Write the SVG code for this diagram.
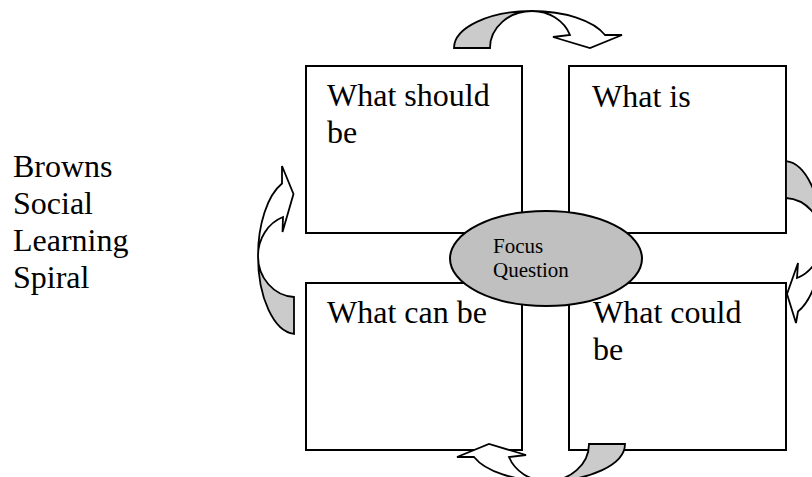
<svg xmlns="http://www.w3.org/2000/svg" xmlns:xlink="http://www.w3.org/1999/xlink" width="812" height="477" viewBox="0 0 812 477">
  <style>
    .box { fill: #ffffff; stroke: #000000; stroke-width: 2; }
    .label { font-family: "Liberation Serif", "Times New Roman", serif; font-size: 32px; fill: #000000; }
    .small { font-family: "Liberation Serif", "Times New Roman", serif; font-size: 21px; fill: #000000; }
    .band-shade { fill: #cbcbcb; stroke: #000000; stroke-width: 1.8; stroke-linejoin: miter; }
    .band-face { fill: #ffffff; stroke: #000000; stroke-width: 1.8; stroke-linejoin: miter; }
    .focus { fill: #c0c0c0; stroke: #000000; stroke-width: 2; }
  </style>
  <defs>
    <!-- curved arrow arching over the top, head pointing down-right -->
    <g id="arc-over">
      <path class="band-face" d="M532,11 A78,37 0 0 1 605,35 L622,35 L590,48 L553,37 L570,35 A40.6,37 0 0 0 532,11 Z"/>
      <path class="band-shade" d="M454,48 A78,37 0 0 1 532,11 A42,37 0 0 0 490,48 Z"/>
    </g>
  </defs>

  <!-- title -->
  <g id="title">
    <text class="label" x="13" y="177">Browns</text>
    <text class="label" x="13" y="214">Social</text>
    <text class="label" x="13" y="251">Learning</text>
    <text class="label" x="13" y="288">Spiral</text>
  </g>

  <!-- quadrants -->
  <g id="what-should-be">
    <rect class="box" x="306" y="66" width="216" height="167"/>
    <text class="label" x="327" y="106">What should</text>
    <text class="label" x="327" y="143">be</text>
  </g>
  <g id="what-is">
    <rect class="box" x="569" y="66" width="217" height="167"/>
    <text class="label" x="592" y="107">What is</text>
  </g>
  <g id="what-can-be">
    <rect class="box" x="306" y="283" width="216" height="167"/>
    <text class="label" x="327" y="323">What can be</text>
  </g>
  <g id="what-could-be">
    <rect class="box" x="569" y="283" width="217" height="167"/>
    <text class="label" x="593" y="323">What could</text>
    <text class="label" x="593" y="360">be</text>
  </g>

  <!-- cycle arrows -->
  <g id="connectors">
    <!-- top: over towards "What is" -->
    <use xlink:href="#arc-over"/>
    <!-- bottom: under towards "What can be" -->
    <use xlink:href="#arc-over" transform="rotate(180 539.5 246)"/>
    <!-- left: up towards "What should be" -->
    <g id="arc-left">
      <path class="band-face" d="M258,256 A38,78 0 0 1 282,183.5 L282,166 L293.5,194 L282.5,232 L283,217 A38,41.5 0 0 0 258,256 Z"/>
      <path class="band-shade" d="M258,256 A38,78 0 0 0 294,333.9 L294,297 A38,41 0 0 1 258,256 Z"/>
    </g>
    <!-- right: down towards "What could be" -->
    <g id="arc-right">
      <path class="band-face" d="M822,239 A38,78 0 0 1 798,311.5 L796,323 L787,294 L798,263 L797,278 A38,41.5 0 0 0 822,239 Z"/>
      <path class="band-shade" d="M822,239 A38,78 0 0 0 786,161.1 L786,198 A38,41 0 0 1 822,239 Z"/>
    </g>
  </g>

  <!-- centre -->
  <g id="focus-question">
    <ellipse class="focus" cx="546" cy="258.5" rx="96" ry="47.5"/>
    <text class="small" x="493" y="252.5">Focus</text>
    <text class="small" x="493" y="276.5">Question</text>
  </g>
</svg>
